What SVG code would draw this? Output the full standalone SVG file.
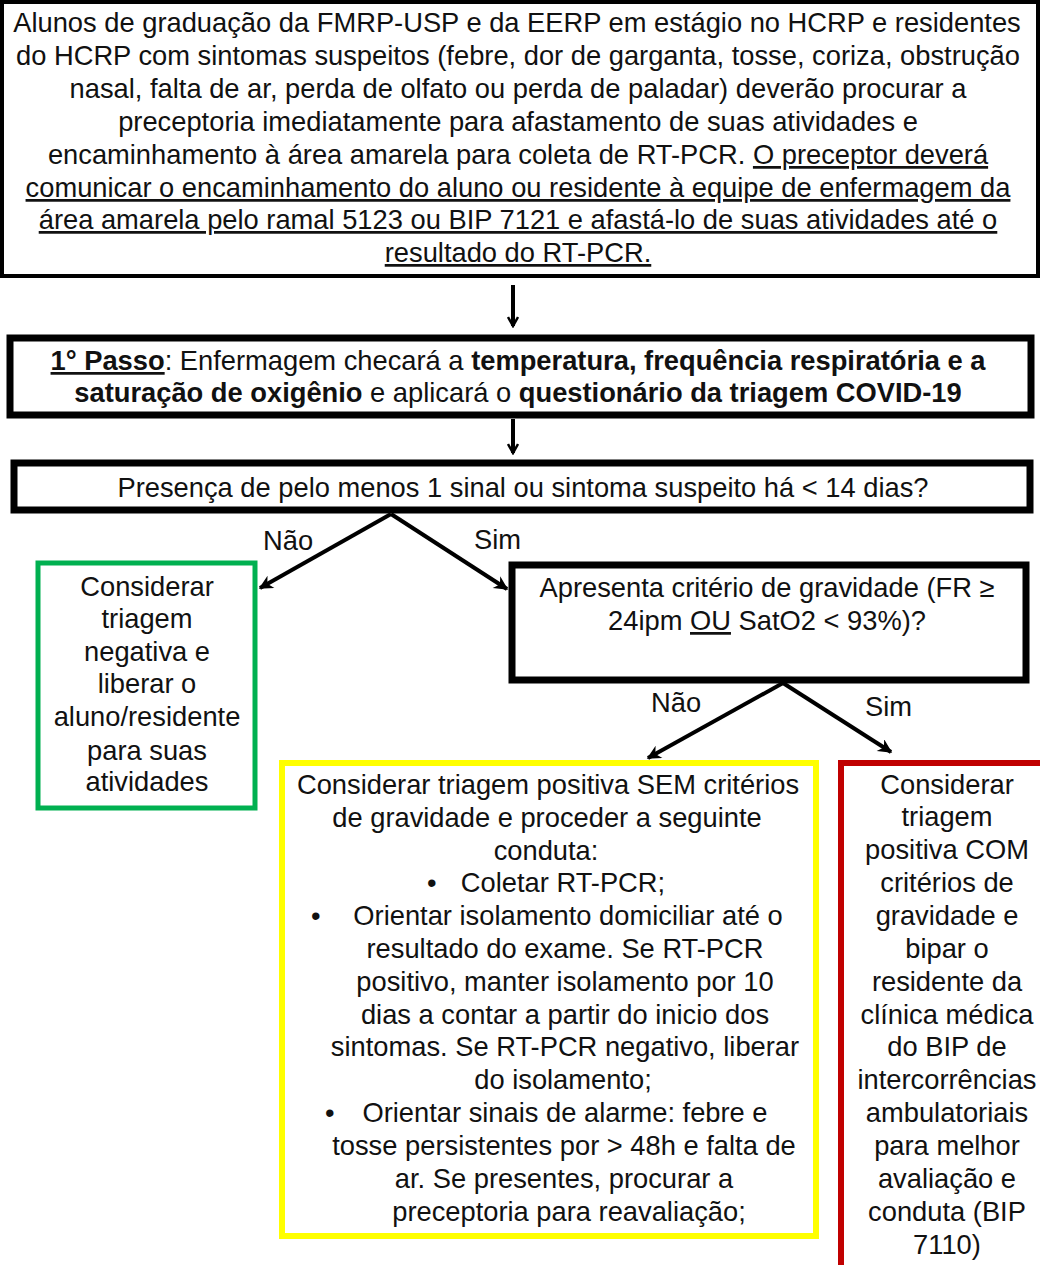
<svg xmlns="http://www.w3.org/2000/svg" width="1040" height="1265" viewBox="0 0 1040 1265">
<style>
text{font-family:"Liberation Sans",Arial,sans-serif;font-size:27.3px;fill:#111;}
.c{text-anchor:middle;}
.b{font-weight:bold;}
.u{text-decoration:underline;}
.blk{fill:#fff;stroke:#000;}
.conn{stroke:#000;stroke-width:4;fill:none;}
</style>
<defs>
<marker id="vopen" viewBox="0 0 12 12" refX="10" refY="6" markerWidth="12" markerHeight="12" markerUnits="userSpaceOnUse" orient="auto">
<path d="M1,1 L10,6 L1,11" fill="none" stroke="#000" stroke-width="2.5"/>
</marker>
<marker id="tri" viewBox="0 0 10 10" refX="9" refY="5" markerWidth="18" markerHeight="14" markerUnits="userSpaceOnUse" orient="auto">
<path d="M0,0 L10,5 L0,10 L3,5 Z" fill="#000"/>
</marker>
</defs>
<rect width="1040" height="1265" fill="#fff"/>

<g id="top">
<rect class="blk" x="2" y="2" width="1036" height="274" stroke-width="4"/>
<text class="c" x="517" y="32">Alunos de graduação da FMRP-USP e da EERP em estágio no HCRP e residentes</text>
<text class="c" x="518" y="65">do HCRP com sintomas suspeitos (febre, dor de garganta, tosse, coriza, obstrução</text>
<text class="c" x="518" y="98">nasal, falta de ar, perda de olfato ou perda de paladar) deverão procurar a</text>
<text class="c" x="518" y="131">preceptoria imediatamente para afastamento de suas atividades e</text>
<text class="c" x="518" y="164">encaminhamento à área amarela para coleta de RT-PCR. <tspan class="u">O preceptor deverá</tspan></text>
<text class="c u" x="518" y="197">comunicar o encaminhamento do aluno ou residente à equipe de enfermagem da</text>
<text class="c u" x="518" y="229">área amarela pelo ramal 5123 ou BIP 7121 e afastá-lo de suas atividades até o</text>
<text class="c u" x="518" y="262">resultado do RT-PCR.</text>
</g>

<g id="passo1">
<rect class="blk" x="10" y="338" width="1021" height="77" stroke-width="7"/>
<text class="c" x="518" y="370"><tspan class="b u">1° Passo</tspan>: Enfermagem checará a <tspan class="b">temperatura, frequência respiratória e a</tspan></text>
<text class="c" x="518" y="402"><tspan class="b">saturação de oxigênio</tspan> e aplicará o <tspan class="b">questionário da triagem COVID-19</tspan></text>
</g>

<g id="q1">
<rect class="blk" x="14" y="463" width="1016" height="47" stroke-width="7"/>
<text class="c" x="523" y="497">Presença de pelo menos 1 sinal ou sintoma suspeito há &lt; 14 dias?</text>
</g>

<g id="neg">
<rect x="38" y="563" width="217" height="245" fill="#fff" stroke="#00B050" stroke-width="5"/>
<text class="c" x="147" y="596">Considerar</text>
<text class="c" x="147" y="628">triagem</text>
<text class="c" x="147" y="661">negativa e</text>
<text class="c" x="147" y="693">liberar o</text>
<text class="c" x="147" y="726">aluno/residente</text>
<text class="c" x="147" y="760">para suas</text>
<text class="c" x="147" y="791">atividades</text>
</g>

<g id="q2">
<rect class="blk" x="512" y="565" width="514" height="115" stroke-width="7"/>
<text class="c" x="767" y="597">Apresenta critério de gravidade (FR ≥</text>
<text class="c" x="767" y="630">24ipm <tspan class="u">OU</tspan> SatO2 &lt; 93%)?</text>
</g>

<g id="posSem">
<rect x="282" y="763" width="534" height="473" fill="#fff" stroke="#FFFF00" stroke-width="6"/>
<text class="c" x="548" y="794">Considerar triagem positiva SEM critérios</text>
<text class="c" x="547" y="827">de gravidade e proceder a seguinte</text>
<text class="c" x="546" y="860">conduta:</text>
<text x="427" y="892">•</text>
<text class="c" x="563" y="892">Coletar RT-PCR;</text>
<text x="311" y="925">•</text>
<text class="c" x="568" y="925">Orientar isolamento domiciliar até o</text>
<text class="c" x="565" y="958">resultado do exame. Se RT-PCR</text>
<text class="c" x="565" y="991">positivo, manter isolamento por 10</text>
<text class="c" x="565" y="1024">dias a contar a partir do inicio dos</text>
<text class="c" x="565" y="1056">sintomas. Se RT-PCR negativo, liberar</text>
<text class="c" x="563" y="1089">do isolamento;</text>
<text x="325" y="1122">•</text>
<text class="c" x="565" y="1122">Orientar sinais de alarme: febre e</text>
<text class="c" x="564" y="1155">tosse persistentes por &gt; 48h e falta de</text>
<text class="c" x="564" y="1188">ar. Se presentes, procurar a</text>
<text class="c" x="569" y="1221">preceptoria para reavaliação;</text>
</g>

<g id="posCom">
<rect x="841" y="763" width="210" height="520" fill="#fff" stroke="#C00000" stroke-width="6"/>
<text class="c" x="947" y="794">Considerar</text>
<text class="c" x="947" y="826">triagem</text>
<text class="c" x="947" y="859">positiva COM</text>
<text class="c" x="947" y="892">critérios de</text>
<text class="c" x="947" y="925">gravidade e</text>
<text class="c" x="947" y="958">bipar o</text>
<text class="c" x="947" y="991">residente da</text>
<text class="c" x="947" y="1024">clínica médica</text>
<text class="c" x="947" y="1056">do BIP de</text>
<text class="c" x="947" y="1089">intercorrências</text>
<text class="c" x="947" y="1122">ambulatoriais</text>
<text class="c" x="947" y="1155">para melhor</text>
<text class="c" x="947" y="1188">avaliação e</text>
<text class="c" x="947" y="1221">conduta (BIP</text>
<text class="c" x="947" y="1254">7110)</text>
</g>

<g id="connectors">
<line class="conn" x1="513" y1="285" x2="513" y2="326" marker-end="url(#vopen)"/>
<line class="conn" x1="513" y1="419" x2="513" y2="453" marker-end="url(#vopen)"/>
<polyline class="conn" points="391,514 260,588" marker-end="url(#tri)"/>
<polyline class="conn" points="391,514 507,589" marker-end="url(#tri)"/>
<polyline class="conn" points="783,683 648,758" marker-end="url(#tri)"/>
<polyline class="conn" points="783,683 891,752" marker-end="url(#tri)"/>
<text x="263" y="550">Não</text>
<text x="474" y="549">Sim</text>
<text x="651" y="712">Não</text>
<text x="865" y="716">Sim</text>
</g>
</svg>
